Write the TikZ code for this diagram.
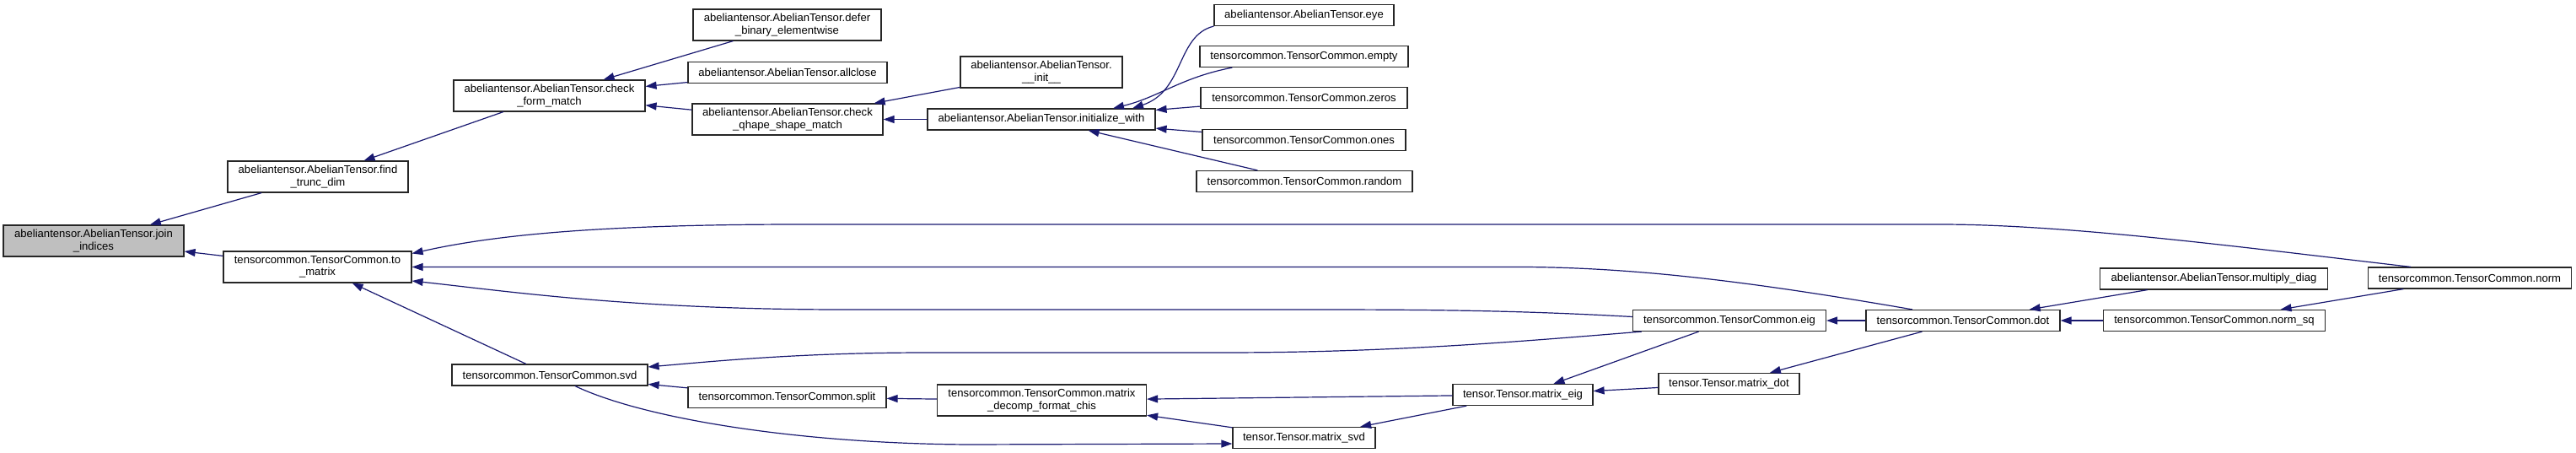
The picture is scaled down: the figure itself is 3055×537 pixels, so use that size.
\documentclass[tikz,border=0pt]{standalone}
\usepackage{fontspec}
\setmainfont{Liberation Sans}
\usetikzlibrary{arrows.meta}
\definecolor{edgeblue}{RGB}{25, 25, 112}
\definecolor{rootgray}{RGB}{191, 191, 191}

\begin{document}
\begin{tikzpicture}[
        x=1pt, y=-1pt,
        fn/.style={rectangle, draw=black!85, fill=white, line width=1.2pt, inner xsep=3pt, inner ysep=1pt, minimum height=25pt, align=center, font=\fontsize{13.1}{14.3}\selectfont},
        tall/.style={minimum height=37pt},
        rootfn/.style={fill=rootgray},
        wd/.style={minimum width=#1pt},
        arrow/.style={-{Triangle[length=13pt, width=9pt]}, line width=1.2pt, draw=edgeblue}
    ]
        \useasboundingbox (0,0) rectangle (3055,537);

        % Column 1-3
        \node (join) [fn, tall, rootfn, wd=214] at (111,285.5) {abeliantensor.AbelianTensor.join\\\_indices};
        \node (findtrunc) [fn, tall, wd=214] at (377,209.5) {abeliantensor.AbelianTensor.find\\\_trunc\_dim};
        \node (tomatrix) [fn, tall, wd=223] at (376.5,316.5) {tensorcommon.TensorCommon.to\\\_matrix};
        \node (formmatch) [fn, tall, wd=227] at (651.5,113.5) {abeliantensor.AbelianTensor.check\\\_form\_match};
        \node (svd) [fn, wd=232] at (652,444.5) {tensorcommon.TensorCommon.svd};

        % Column 4-5
        \node (defer) [fn, tall, wd=223] at (933.5,29.5) {abeliantensor.AbelianTensor.defer\\\_binary\_elementwise};
        \node (allclose) [fn, wd=236] at (934,86) {abeliantensor.AbelianTensor.allclose};
        \node (qhapematch) [fn, tall, wd=226] at (934,141.5) {abeliantensor.AbelianTensor.check\\\_qhape\_shape\_match};
        \node (split) [fn, wd=235] at (933.5,471) {tensorcommon.TensorCommon.split};
        \node (init) [fn, tall, wd=192] at (1235,85.5) {abeliantensor.AbelianTensor.\\\_\_init\_\_};
        \node (initwith) [fn, wd=270] at (1235,141.5) {abeliantensor.AbelianTensor.initialize\_with};
        \node (decomp) [fn, tall, wd=248] at (1235.5,474.5) {tensorcommon.TensorCommon.matrix\\\_decomp\_format\_chis};

        % Column 6-7
        \node (eye) [fn, wd=213] at (1546.5,18) {abeliantensor.AbelianTensor.eye};
        \node (empty) [fn, wd=247] at (1546.5,67) {tensorcommon.TensorCommon.empty};
        \node (zeros) [fn, wd=245] at (1546.5,116) {tensorcommon.TensorCommon.zeros};
        \node (ones) [fn, wd=241] at (1546.5,166) {tensorcommon.TensorCommon.ones};
        \node (random) [fn, wd=256] at (1547,215) {tensorcommon.TensorCommon.random};
        \node (matsvd) [fn, wd=169] at (1546.5,519) {tensor.Tensor.matrix\_svd};
        \node (mateig) [fn, wd=166] at (1806,468) {tensor.Tensor.matrix\_eig};

        % Column 8-11
        \node (eig) [fn, wd=229] at (2051,380) {tensorcommon.TensorCommon.eig};
        \node (matdot) [fn, wd=167] at (2050.5,455) {tensor.Tensor.matrix\_dot};
        \node (dot) [fn, wd=230] at (2328,380) {tensorcommon.TensorCommon.dot};
        \node (multdiag) [fn, wd=270] at (2625.5,330.5) {abeliantensor.AbelianTensor.multiply\_diag};
        \node (normsq) [fn, wd=263] at (2626,380) {tensorcommon.TensorCommon.norm\_sq};
        \node (norm) [fn, wd=241] at (2929,329.5) {tensorcommon.TensorCommon.norm};

        % Connecting Arrows
        \draw [arrow] (findtrunc) -- (join);
        \draw [arrow] (tomatrix) -- (join);
        \draw [arrow] (formmatch) -- (findtrunc);
        \draw [arrow] (defer) -- (formmatch);
        \draw [arrow] (allclose) -- (formmatch);
        \draw [arrow] (qhapematch) -- (formmatch);
        \draw [arrow] (init) -- (qhapematch);
        \draw [arrow] (initwith) -- (qhapematch);
        \draw [arrow] (eye.south west) .. controls (1395,42) and (1405,108) .. ([xshift=108pt]initwith.north);
        \draw [arrow] ([xshift=39pt]empty.south west) .. controls (1400,92) and (1375,115) .. ([xshift=85pt]initwith.north);
        \draw [arrow] (zeros) -- (initwith);
        \draw [arrow] (ones) -- (initwith);
        \draw [arrow] (random) -- (initwith);
        \draw [arrow] ([xshift=-70pt]norm.north) .. controls (2650,292) and (2450,266) .. (2300,266) -- (950,266) .. controls (700,266) and (580,280) .. ([yshift=16pt]tomatrix.east);
        \draw [arrow] ([xshift=-60pt]dot.north) .. controls (2100,338) and (1950,316.5) .. (1800,316.5) -- (tomatrix.east);
        \draw [arrow] ([yshift=4.5pt]eig.west) .. controls (1800,368) and (1700,367) .. (1550,367) -- (1000,367) .. controls (750,367) and (600,345) .. ([yshift=-16.5pt]tomatrix.east);
        \draw [arrow] (svd) -- (tomatrix);
        \draw [arrow] ([xshift=11pt]eig.south west) .. controls (1800,405) and (1650,418) .. (1450,418) -- (1100,418) .. controls (950,418) and (850,428) .. ([yshift=9.5pt]svd.east);
        \draw [arrow] (split) -- (svd);
        \draw [arrow] ([xshift=30pt]svd.south) .. controls (765,497) and (950,526) .. (1150,527) -- ([yshift=-7pt]matsvd.west);
        \draw [arrow] (decomp) -- (split);
        \draw [arrow] (mateig) -- (decomp);
        \draw [arrow] (matsvd) -- (decomp);
        \draw [arrow] (mateig) -- (matsvd);
        \draw [arrow] (eig) -- (mateig);
        \draw [arrow] (matdot) -- (mateig);
        \draw [arrow] (dot) -- (eig);
        \draw [arrow] (dot) -- (matdot);
        \draw [arrow] (multdiag) -- (dot);
        \draw [arrow] (normsq) -- (dot);
        \draw [arrow] (norm) -- (normsq);
\end{tikzpicture}
\end{document}
